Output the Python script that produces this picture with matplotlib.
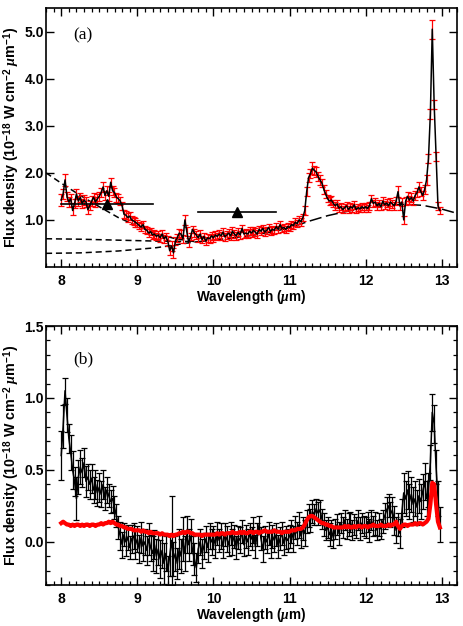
import numpy as np
import matplotlib
matplotlib.use("Agg")
import matplotlib.pyplot as plt
from matplotlib.ticker import MultipleLocator, FormatStrFormatter

plt.rcParams['font.family'] = ['Liberation Sans', 'DejaVu Sans']
plt.rcParams['font.weight'] = 'bold'
plt.rcParams['mathtext.fontset'] = 'custom'
plt.rcParams['mathtext.rm'] = 'Liberation Sans:bold'
plt.rcParams['mathtext.bf'] = 'Liberation Sans:bold'
plt.rcParams['mathtext.it'] = 'Liberation Serif:italic'

# ---------------- data ----------------
# wavelength grid (um), 0.025 um sampling from 8.0 to 12.975
wavelength = np.linspace(8.0, 12.975, 200)

# panel (a): observed spectrum
flux_a = [
    1.42, 1.55, 1.85, 1.50, 1.38, 1.45, 1.20, 1.35, 1.55, 1.40, 1.48, 1.35, 1.42, 1.38, 1.22, 1.30, 1.40, 1.48, 1.38, 1.45,
    1.50, 1.58, 1.70, 1.52, 1.62, 1.50, 1.80, 1.62, 1.58, 1.48, 1.45, 1.40, 1.30, 1.12, 1.10, 1.05, 1.08, 1.00, 0.98, 0.95,
    0.92, 0.88, 0.85, 0.90, 0.80, 0.78, 0.72, 0.75, 0.68, 0.70, 0.65, 0.68, 0.62, 0.70, 0.60, 0.65, 0.55, 0.35, 0.45, 0.30,
    0.55, 0.62, 0.72, 0.70, 0.60, 1.00, 0.75, 0.52, 0.65, 0.80, 0.72, 0.68, 0.62, 0.70, 0.58, 0.65, 0.55, 0.62, 0.60, 0.66,
    0.62, 0.68, 0.65, 0.70, 0.66, 0.74, 0.64, 0.68, 0.72, 0.66, 0.76, 0.70, 0.66, 0.74, 0.68, 0.82, 0.70, 0.72, 0.70, 0.76,
    0.72, 0.78, 0.74, 0.70, 0.80, 0.76, 0.82, 0.74, 0.78, 0.84, 0.76, 0.80, 0.78, 0.86, 0.80, 0.90, 0.82, 0.84, 0.80, 0.86,
    0.84, 0.90, 0.88, 0.95, 0.92, 1.00, 0.96, 1.05, 1.20, 1.60, 1.90, 1.98, 2.10, 2.05, 2.02, 1.92, 1.85, 1.78, 1.65, 1.55,
    1.45, 1.40, 1.42, 1.35, 1.30, 1.34, 1.25, 1.28, 1.22, 1.26, 1.30, 1.22, 1.28, 1.25, 1.32, 1.22, 1.26, 1.24, 1.28, 1.25,
    1.28, 1.24, 1.30, 1.45, 1.35, 1.38, 1.30, 1.35, 1.28, 1.40, 1.32, 1.36, 1.30, 1.38, 1.34, 1.30, 1.40, 1.60, 1.30, 1.38,
    1.00, 1.40, 1.50, 1.42, 1.48, 1.40, 1.52, 1.58, 1.70, 1.60, 1.52, 1.65, 1.85, 2.30, 3.25, 5.05, 3.45, 2.35, 1.30, 1.20,
]
err_a = [
    0.12, 0.10, 0.12, 0.10, 0.10, 0.10, 0.10, 0.10, 0.10, 0.10, 0.10, 0.10, 0.10, 0.10, 0.10, 0.10, 0.10, 0.10, 0.10, 0.10,
    0.10, 0.10, 0.10, 0.10, 0.10, 0.10, 0.10, 0.10, 0.10, 0.10, 0.09, 0.09, 0.09, 0.09, 0.09, 0.09, 0.09, 0.09, 0.09, 0.09,
    0.08, 0.08, 0.08, 0.08, 0.08, 0.08, 0.08, 0.08, 0.08, 0.08, 0.08, 0.08, 0.08, 0.08, 0.08, 0.08, 0.10, 0.10, 0.10, 0.10,
    0.09, 0.09, 0.09, 0.08, 0.09, 0.10, 0.09, 0.09, 0.08, 0.08, 0.08, 0.08, 0.08, 0.08, 0.08, 0.08, 0.08, 0.08, 0.08, 0.08,
    0.08, 0.08, 0.08, 0.08, 0.08, 0.08, 0.08, 0.08, 0.08, 0.08, 0.08, 0.08, 0.08, 0.08, 0.08, 0.08, 0.08, 0.08, 0.08, 0.08,
    0.08, 0.08, 0.08, 0.08, 0.08, 0.08, 0.08, 0.08, 0.08, 0.08, 0.08, 0.08, 0.08, 0.08, 0.08, 0.08, 0.08, 0.08, 0.08, 0.08,
    0.08, 0.08, 0.08, 0.08, 0.08, 0.08, 0.08, 0.08, 0.09, 0.10, 0.10, 0.10, 0.12, 0.10, 0.10, 0.10, 0.10, 0.09, 0.09, 0.09,
    0.08, 0.08, 0.08, 0.08, 0.08, 0.08, 0.08, 0.08, 0.08, 0.08, 0.08, 0.08, 0.08, 0.08, 0.08, 0.08, 0.08, 0.08, 0.08, 0.08,
    0.08, 0.08, 0.08, 0.08, 0.08, 0.08, 0.08, 0.08, 0.08, 0.08, 0.08, 0.08, 0.08, 0.08, 0.08, 0.08, 0.08, 0.12, 0.08, 0.08,
    0.08, 0.09, 0.09, 0.09, 0.09, 0.09, 0.09, 0.10, 0.10, 0.10, 0.10, 0.10, 0.10, 0.10, 0.10, 0.20, 0.10, 0.10, 0.08, 0.08,
]

# panel (a): continuum models (dashed)
cont_wl = [9.75, 10.0, 10.25, 10.5, 10.75, 11.0, 11.25, 11.5, 11.75, 12.0, 12.25, 12.5, 12.75, 13.0, 13.2]
cont_fx = [0.53, 0.57, 0.62, 0.67, 0.74, 0.83, 0.97, 1.09, 1.18, 1.26, 1.31, 1.33, 1.31, 1.23, 1.14]
branch1_wl = [7.8, 8.0, 8.25, 8.5, 8.75, 9.0, 9.25, 9.5, 9.75]
branch1_fx = [2.00, 1.78, 1.52, 1.28, 1.05, 0.87, 0.71, 0.60, 0.54]
branch2_wl = [7.8, 8.25, 8.75, 9.25, 9.75]
branch2_fx = [0.60, 0.59, 0.57, 0.55, 0.54]
branch3_wl = [7.8, 8.25, 8.75, 9.25, 9.5, 9.75]
branch3_fx = [0.29, 0.30, 0.34, 0.41, 0.47, 0.53]

# panel (a): photometry (centre, band edges, flux)
phot_wl = [8.60, 10.31]
phot_lo = [8.00, 9.80]
phot_hi = [9.21, 10.82]
phot_fx = [1.34, 1.16]

# panel (b): residual spectrum
flux_b = [
    0.60, 0.80, 1.05, 0.88, 0.72, 0.62, 0.50, 0.42, 0.30, 0.45, 0.52, 0.48, 0.55, 0.42, 0.45, 0.40, 0.44, 0.36, 0.40, 0.34,
    0.38, 0.33, 0.40, 0.30, 0.36, 0.32, 0.28, 0.30, 0.24, 0.18, 0.10, 0.04, -0.02, 0.05, 0.00, 0.03, -0.04, 0.02, 0.04, -0.02,
    0.02, -0.05, 0.03, -0.03, 0.00, -0.06, 0.02, -0.04, -0.08, -0.02, -0.10, -0.05, -0.12, -0.06, -0.15, -0.08, -0.20, -0.10, 0.01, -0.12,
    -0.08, -0.15, -0.05, -0.10, 0.02, -0.08, 0.05, -0.02, 0.04, -0.06, -0.12, -0.18, -0.05, 0.00, -0.08, -0.03, 0.02, -0.04, 0.04, 0.00,
    0.03, -0.02, 0.06, 0.01, 0.04, -0.03, 0.05, 0.02, -0.02, 0.06, 0.00, 0.04, -0.04, 0.03, 0.01, 0.07, -0.02, 0.04, 0.00, 0.05,
    0.02, 0.08, -0.03, 0.05, 0.12, 0.02, -0.05, 0.03, 0.00, 0.06, -0.02, 0.04, 0.01, 0.05, -0.03, 0.02, 0.06, -0.01, 0.03, 0.01,
    0.04, 0.07, 0.02, 0.10, 0.06, 0.12, 0.04, 0.09, 0.06, 0.14, 0.18, 0.15, 0.21, 0.19, 0.23, 0.20, 0.22, 0.16, 0.12, 0.08,
    0.10, 0.05, 0.08, 0.03, 0.09, 0.12, 0.06, 0.13, 0.10, 0.15, 0.09, 0.12, 0.14, 0.08, 0.12, 0.10, 0.15, 0.09, 0.13, 0.11,
    0.10, 0.14, 0.08, 0.15, 0.11, 0.13, 0.08, 0.12, 0.09, 0.14, 0.18, 0.22, 0.25, 0.19, 0.22, 0.15, 0.08, 0.12, 0.06, 0.20,
    0.34, 0.30, 0.36, 0.28, 0.33, 0.26, 0.30, 0.24, 0.32, 0.28, 0.35, 0.42, 0.30, 0.36, 0.55, 0.90, 0.82, 0.52, 0.30, 0.12,
]
err_b = [
    0.17, 0.15, 0.09, 0.12, 0.10, 0.12, 0.13, 0.10, 0.15, 0.12, 0.12, 0.10, 0.10, 0.11, 0.09, 0.10, 0.10, 0.09, 0.10, 0.09,
    0.10, 0.09, 0.10, 0.08, 0.09, 0.08, 0.08, 0.09, 0.08, 0.08, 0.08, 0.10, 0.09, 0.08, 0.10, 0.09, 0.08, 0.10, 0.09, 0.10,
    0.09, 0.10, 0.11, 0.10, 0.09, 0.10, 0.11, 0.09, 0.12, 0.10, 0.12, 0.11, 0.13, 0.12, 0.14, 0.12, 0.10, 0.14, 0.31, 0.12,
    0.12, 0.11, 0.14, 0.12, 0.15, 0.12, 0.13, 0.11, 0.12, 0.10, 0.11, 0.10, 0.10, 0.09, 0.10, 0.09, 0.09, 0.10, 0.09, 0.09,
    0.08, 0.09, 0.08, 0.08, 0.09, 0.08, 0.08, 0.09, 0.08, 0.08, 0.09, 0.08, 0.08, 0.08, 0.09, 0.08, 0.08, 0.08, 0.09, 0.08,
    0.08, 0.09, 0.08, 0.08, 0.06, 0.08, 0.09, 0.08, 0.08, 0.08, 0.09, 0.08, 0.08, 0.08, 0.08, 0.08, 0.08, 0.08, 0.08, 0.08,
    0.08, 0.08, 0.09, 0.08, 0.08, 0.09, 0.08, 0.08, 0.09, 0.08, 0.08, 0.08, 0.08, 0.07, 0.07, 0.08, 0.07, 0.07, 0.08, 0.07,
    0.07, 0.08, 0.07, 0.07, 0.07, 0.07, 0.08, 0.07, 0.07, 0.07, 0.07, 0.08, 0.07, 0.07, 0.07, 0.07, 0.07, 0.08, 0.07, 0.07,
    0.07, 0.07, 0.08, 0.07, 0.07, 0.08, 0.07, 0.08, 0.07, 0.08, 0.09, 0.09, 0.08, 0.09, 0.09, 0.10, 0.09, 0.08, 0.10, 0.10,
    0.14, 0.12, 0.13, 0.12, 0.12, 0.12, 0.12, 0.12, 0.12, 0.12, 0.12, 0.13, 0.12, 0.12, 0.12, 0.13, 0.13, 0.12, 0.12, 0.12,
]
# panel (b): scaled template (red)
templ_b = [
    0.13, 0.14, 0.13, 0.12, 0.12, 0.11, 0.12, 0.11, 0.12, 0.12, 0.11, 0.12, 0.11, 0.12, 0.12, 0.11, 0.12, 0.12, 0.11, 0.12,
    0.12, 0.13, 0.12, 0.13, 0.13, 0.14, 0.13, 0.14, 0.13, 0.12, 0.12, 0.11, 0.11, 0.10, 0.10, 0.09, 0.09, 0.09, 0.08, 0.08,
    0.08, 0.08, 0.07, 0.08, 0.07, 0.07, 0.06, 0.07, 0.06, 0.06, 0.06, 0.06, 0.05, 0.06, 0.05, 0.05, 0.05, 0.04, 0.05, 0.04,
    0.05, 0.05, 0.06, 0.06, 0.07, 0.06, 0.07, 0.07, 0.06, 0.06, 0.05, 0.05, 0.05, 0.05, 0.04, 0.05, 0.05, 0.05, 0.05, 0.05,
    0.05, 0.05, 0.06, 0.05, 0.06, 0.06, 0.05, 0.06, 0.06, 0.06, 0.07, 0.06, 0.06, 0.06, 0.07, 0.06, 0.07, 0.06, 0.06, 0.07,
    0.07, 0.06, 0.07, 0.07, 0.06, 0.07, 0.07, 0.08, 0.07, 0.07, 0.07, 0.07, 0.08, 0.07, 0.07, 0.07, 0.06, 0.07, 0.07, 0.07,
    0.07, 0.08, 0.08, 0.08, 0.09, 0.09, 0.09, 0.10, 0.12, 0.15, 0.17, 0.18, 0.18, 0.17, 0.16, 0.15, 0.14, 0.13, 0.13, 0.12,
    0.12, 0.11, 0.11, 0.10, 0.10, 0.10, 0.10, 0.10, 0.10, 0.11, 0.10, 0.11, 0.10, 0.10, 0.11, 0.10, 0.11, 0.11, 0.10, 0.11,
    0.11, 0.10, 0.11, 0.11, 0.12, 0.11, 0.11, 0.11, 0.12, 0.11, 0.11, 0.11, 0.12, 0.11, 0.12, 0.12, 0.14, 0.11, 0.09, 0.11,
    0.12, 0.12, 0.11, 0.12, 0.12, 0.12, 0.13, 0.12, 0.13, 0.13, 0.12, 0.13, 0.14, 0.16, 0.26, 0.41, 0.40, 0.26, 0.14, 0.10,
]

ylabel = r'Flux density (10$^{-18}$ W cm$^{-2}$ $\mu$m$^{-1}$)'
xlabel = r'Wavelength ($\mu$m)'

# ---------------- figure ----------------
fig = plt.figure(figsize=(4.63, 6.26), dpi=100)
ax_a = fig.add_axes([46/463, 1-267/626, 411/463, 259/626])
ax_b = fig.add_axes([46/463, 1-585/626, 411/463, 259/626])

TICKFS = 10
XLABFS = 9.8
YLABFS = 10.3


def style(ax):
    ax.tick_params(which='both', direction='in', top=True, right=True, labelsize=TICKFS)
    ax.tick_params(which='major', length=5.5, width=1.0)
    ax.tick_params(which='minor', length=2.8, width=0.9)
    ax.tick_params(axis='x', pad=5)
    ax.tick_params(axis='y', pad=1.5)
    for s in ax.spines.values():
        s.set_linewidth(1.2)
    ax.set_xlim(7.8, 13.2)
    ax.xaxis.set_major_locator(MultipleLocator(1))
    ax.xaxis.set_minor_locator(MultipleLocator(0.1))
    ax.set_xlabel(xlabel, fontsize=XLABFS, fontweight='bold', labelpad=0)
    ax.set_ylabel(ylabel, fontsize=YLABFS, fontweight='bold', labelpad=1.5)


# panel (a)
ax_a.errorbar(wavelength, flux_a, yerr=err_a, fmt='none', ecolor='red', elinewidth=0.9,
              capsize=2, capthick=0.9, zorder=2)
ax_a.plot(wavelength, flux_a, color='black', lw=1.1, zorder=3)
ax_a.plot(cont_wl, cont_fx, color='black', lw=1.1, ls=(0, (8, 3)), zorder=1)
for bw, bf in [(branch1_wl, branch1_fx), (branch2_wl, branch2_fx), (branch3_wl, branch3_fx)]:
    ax_a.plot(bw, bf, color='black', lw=1.1, ls=(0, (4, 2.5)), zorder=1)
for c, lo, hi, f in zip(phot_wl, phot_lo, phot_hi, phot_fx):
    ax_a.plot([lo, hi], [f, f], color='black', lw=1.2, zorder=4)
    ax_a.plot([c], [f], marker='^', color='black', ms=7, zorder=5)
ax_a.set_ylim(0, 5.5)
ax_a.set_yticks([1, 2, 3, 4, 5])
ax_a.yaxis.set_major_formatter(FormatStrFormatter('%.1f'))
style(ax_a)
ax_a.text(0.09, 0.893, '(a)', transform=ax_a.transAxes, ha='center', va='center',
          fontsize=12.5, fontweight='normal', family='Liberation Serif')

# panel (b)
ax_b.errorbar(wavelength, flux_b, yerr=err_b, fmt='none', ecolor='black', elinewidth=0.9,
              capsize=2, capthick=0.9, zorder=2)
ax_b.plot(wavelength, flux_b, color='black', lw=1.1, zorder=3)
ax_b.plot(wavelength, templ_b, color='red', lw=3.0, zorder=4)
ax_b.set_ylim(-0.3, 1.5)
ax_b.set_yticks([0.0, 0.5, 1.0, 1.5])
ax_b.yaxis.set_minor_locator(MultipleLocator(0.1))
ax_b.yaxis.set_major_formatter(FormatStrFormatter('%.1f'))
style(ax_b)
ax_b.text(0.09, 0.873, '(b)', transform=ax_b.transAxes, ha='center', va='center',
          fontsize=12.5, fontweight='normal', family='Liberation Serif')

fig.savefig('out.png', dpi=100)
